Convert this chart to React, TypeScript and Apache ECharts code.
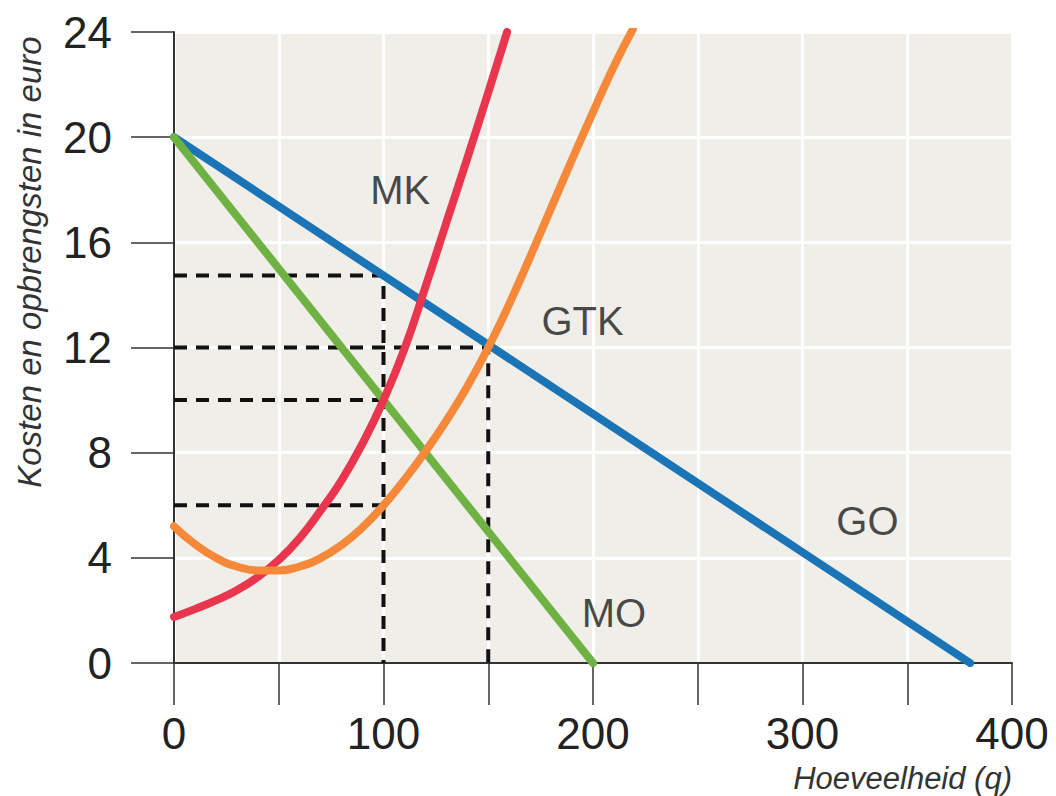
import React, { useEffect, useRef } from "react";
import * as echarts from "echarts";

// Quantity (q) and value (euro) samples
const goQ = [0, 380];
const goV = [20, 0];
const moQ = [0, 200];
const moV = [20, 0];
const mkQ = [0, 10, 20, 30, 40, 50, 60, 70, 80, 90, 100, 110, 120, 130, 140, 150, 159];
const mkV = [1.75, 2.05, 2.38, 2.77, 3.27, 3.92, 4.75, 5.8, 6.95, 8.35, 10, 11.95, 14.3, 16.75, 19.2, 21.7, 24];
const gtkQ = [0, 10, 20, 30, 40, 50, 60, 70, 80, 90, 100, 110, 120, 130, 140, 150, 160, 170, 180, 190, 200, 210, 219];
const gtkV = [5.2, 4.52, 4.0, 3.67, 3.52, 3.52, 3.67, 3.99, 4.49, 5.16, 6.0, 6.97, 8.04, 9.22, 10.52, 12.0, 13.65, 15.45, 17.3, 19.15, 20.95, 22.7, 24.1];

// Guide (dashed) lines: [q, value] corner points
const guide1Q = [0, 100, 100];
const guide1V = [14.74, 14.74, 0];
const guide2Q = [0, 150, 150];
const guide2V = [12, 12, 0];
const guide3Q = [0, 100];
const guide3V = [10, 10];
const guide4Q = [0, 100];
const guide4V = [6, 6];

// Curve labels
const labelNames = ["MK", "GTK", "GO", "MO"];
const labelQ = [108, 195, 331, 210];
const labelV = [18, 13, 5.4, 1.9];

const xTicks = [0, 100, 200, 300, 400];

const zip = (q: number[], v: number[]) => q.map((x, i) => [x, v[i]]);

const FONT = "'Liberation Sans', Arial, sans-serif";

export default function App() {
  const ref = useRef<HTMLDivElement>(null);
  useEffect(() => {
    if (!ref.current) return;
    const chart = echarts.init(ref.current, undefined, { renderer: "svg" });
    const curve = (name: string, q: number[], v: number[], color: string, smooth: number | boolean) => ({
      name,
      type: "line",
      data: zip(q, v),
      symbol: "none",
      smooth,
      lineStyle: { color, width: 8, cap: "round" },
      z: 5,
    });
    const dashed = (q: number[], v: number[]) => ({
      type: "line",
      data: zip(q, v),
      symbol: "none",
      lineStyle: { color: "#111", width: 4, type: [13, 9] },
      z: 3,
    });
    chart.setOption({
      animation: false,
      backgroundColor: "#ffffff",
      textStyle: { fontFamily: FONT },
      grid: {
        left: 174,
        right: 44,
        top: 32,
        bottom: 133,
        show: true,
        backgroundColor: "#f0eee9",
        borderWidth: 0,
      },
      xAxis: {
        type: "value",
        min: 0,
        max: 400,
        interval: 50,
        axisLine: { show: true, onZero: false, lineStyle: { color: "#333", width: 2 } },
        axisTick: { show: true, length: 42, lineStyle: { color: "#333", width: 1.5 } },
        axisLabel: {
          fontSize: 44,
          color: "#222",
          margin: 48,
          fontFamily: FONT,
          formatter: (v: number) => (xTicks.includes(v) ? String(v) : ""),
        },
        splitLine: { show: true, lineStyle: { color: "#ffffff", width: 3 } },
      },
      yAxis: {
        type: "value",
        min: 0,
        max: 24,
        interval: 4,
        axisLine: { show: true, lineStyle: { color: "#333", width: 2 } },
        axisTick: { show: true, length: 43, lineStyle: { color: "#333", width: 1.5 } },
        axisLabel: { fontSize: 44, color: "#222", margin: 62, fontFamily: FONT },
        splitLine: { show: true, lineStyle: { color: "#ffffff", width: 3 } },
      },
      graphic: [
        {
          type: "text",
          x: 29,
          y: 262,
          rotation: Math.PI / 2,
          style: {
            text: "Kosten en opbrengsten in euro",
            font: `italic 33px ${FONT}`,
            fill: "#333",
            textAlign: "center",
            textVerticalAlign: "middle",
          },
        },
        {
          type: "text",
          right: 44,
          top: 763,
          style: {
            text: "Hoeveelheid (q)",
            font: `italic 31px ${FONT}`,
            fill: "#333",
          },
        },
      ],
      series: [
        dashed(guide1Q, guide1V),
        dashed(guide2Q, guide2V),
        dashed(guide3Q, guide3V),
        dashed(guide4Q, guide4V),
        curve("GO", goQ, goV, "#1b74b6", false),
        curve("MO", moQ, moV, "#6fb243", false),
        curve("MK", mkQ, mkV, "#e9364e", 0.5),
        curve("GTK", gtkQ, gtkV, "#f6883a", 0.5),
        {
          type: "scatter",
          symbolSize: 0,
          z: 10,
          data: labelNames.map((n, i) => ({ name: n, value: [labelQ[i], labelV[i]] })),
          label: {
            show: true,
            position: "inside",
            formatter: (p: any) => p.name,
            fontSize: 40,
            color: "#1a1a1a",
            fontFamily: FONT,
          },
        },
      ],
    });
    return () => chart.dispose();
  }, []);
  return (
    <div
      ref={ref}
      style={{ position: "fixed", left: 0, top: 0, width: 1056, height: 796 }}
    />
  );
}
